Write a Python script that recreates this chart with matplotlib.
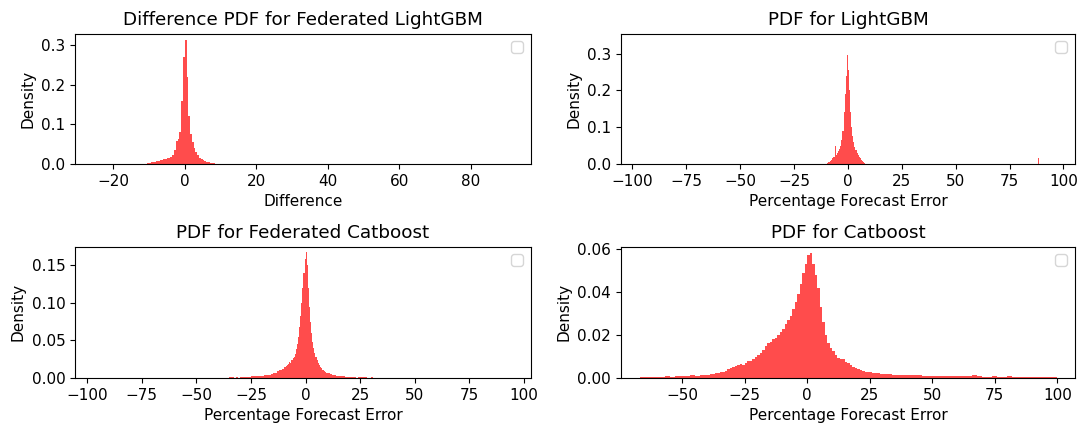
import numpy as np
import matplotlib
matplotlib.use('Agg')
import matplotlib.pyplot as plt

plt.rcParams['font.size'] = 11

# --- Difference PDF for Federated LightGBM (bin width 0.5 from -13 to 10)
tl_edges = np.arange(-13, 10.01, 0.5)
tl_dens = [0.001, 0.000, 0.000, 0.001, 0.001, 0.002, 0.003, 0.005, 0.005, 0.006,
           0.007, 0.008, 0.009, 0.010, 0.012, 0.013, 0.015, 0.016, 0.018, 0.022,
           0.035, 0.058, 0.062, 0.080, 0.160, 0.270, 0.312, 0.220, 0.120, 0.075,
           0.055, 0.040, 0.030, 0.022, 0.016, 0.012, 0.009, 0.007, 0.005, 0.004,
           0.003, 0.002, 0.002, 0.001, 0.001, 0.0005]

# --- PDF for LightGBM (0.5 bins from -9.5 to 8, then empty gap, spike near 88)
tr_edges = np.concatenate([np.arange(-9.5, 8.01, 0.5), [88.0, 88.6]])
tr_dens = [0.002, 0.005, 0.008, 0.012, 0.015, 0.018, 0.020, 0.050, 0.025, 0.030,
           0.034, 0.040, 0.050, 0.065, 0.090, 0.140, 0.190, 0.240, 0.295, 0.255,
           0.200, 0.140, 0.100, 0.075, 0.060, 0.047, 0.037, 0.030, 0.025, 0.020,
           0.016, 0.012, 0.008, 0.005, 0.002,
           0.0, 0.017]

# --- PDF for Federated Catboost
bl_edges = np.concatenate([np.arange(-35, -10, 1.0), np.arange(-10, 10, 0.5),
                           np.arange(10, 32.01, 1.0)])
bl_dens = [0.001, 0.001, 0.0005, 0.001, 0.0005, 0.001, 0.001, 0.001, 0.0015, 0.0015,
           0.002, 0.002, 0.002, 0.0025, 0.003, 0.003, 0.0035, 0.004, 0.0045, 0.005,
           0.006, 0.007, 0.009, 0.010, 0.012,
           0.014, 0.015, 0.016, 0.017, 0.019, 0.021, 0.020, 0.024, 0.026, 0.028,
           0.032, 0.038, 0.045, 0.055, 0.068, 0.083, 0.100, 0.120, 0.140, 0.158,
           0.168, 0.150, 0.120, 0.095, 0.075, 0.060, 0.048, 0.040, 0.033, 0.028,
           0.024, 0.020, 0.017, 0.015, 0.013, 0.011, 0.010, 0.009, 0.008, 0.007,
           0.006, 0.005, 0.004, 0.0035, 0.003, 0.0025, 0.002, 0.002, 0.0015, 0.0015,
           0.001, 0.0015, 0.001, 0.0005, 0.001, 0.001, 0.0015, 0.001, 0.0005, 0.0005,
           0.001, 0.0005]

# --- PDF for Catboost
br_edges = np.concatenate([np.arange(-67, -35, 2.0), np.arange(-35, 30, 1.0),
                           np.arange(30, 100.01, 2.0)])
br_dens = [0.0003, 0.0005, 0.0004, 0.0006, 0.0005, 0.0007, 0.0006, 0.0008, 0.0009, 0.0010,
           0.0016, 0.0011, 0.0013, 0.0015, 0.0018, 0.0022,
           0.0026, 0.0030, 0.0034, 0.0042, 0.0048, 0.0052, 0.0056, 0.0060, 0.0066, 0.0062,
           0.0072, 0.0080, 0.0078, 0.0090, 0.0098, 0.0108, 0.0118, 0.0132, 0.0150, 0.0162,
           0.0170, 0.0180, 0.0188, 0.0200, 0.0215, 0.0230, 0.0250, 0.0270, 0.0290, 0.0320,
           0.0355, 0.0390, 0.0440, 0.0490, 0.0530, 0.0575, 0.0585, 0.0530, 0.0480, 0.0420,
           0.0330, 0.0260, 0.0200, 0.0165, 0.0140, 0.0125, 0.0105, 0.0095, 0.0090, 0.0088,
           0.0075, 0.0068, 0.0060, 0.0052, 0.0045, 0.0040, 0.0036, 0.0033, 0.0030, 0.0028,
           0.0026, 0.0024, 0.0023, 0.0021, 0.0020,
           0.0019, 0.0018, 0.0016, 0.0015, 0.0014, 0.0013, 0.0012, 0.0012, 0.0011, 0.0010,
           0.0010, 0.0009, 0.0009, 0.0010, 0.0008, 0.0008, 0.0007, 0.0008, 0.0012, 0.0007,
           0.0006, 0.0006, 0.0007, 0.0006, 0.0006, 0.0007, 0.0005, 0.0006, 0.0005, 0.0005,
           0.0004, 0.0005, 0.0004, 0.0004, 0.0004]

panels = [
    # edges, dens, title, xlabel, xlim, ylim, axes rect
    (tl_edges, tl_dens, 'Difference PDF for Federated LightGBM', 'Difference',
     (-30.7, 96.9), (0, 0.329), [0.0694, 0.6141, 0.4218, 0.3068]),
    (tr_edges, tr_dens, 'PDF for LightGBM', 'Percentage Forecast Error',
     (-105.4, 105.4), (0, 0.354), [0.5742, 0.6141, 0.4203, 0.3068]),
    (bl_edges, bl_dens, 'PDF for Federated Catboost', 'Percentage Forecast Error',
     (-105.6, 103.2), (0, 0.175), [0.0694, 0.1106, 0.4218, 0.3092]),
    (br_edges, br_dens, 'PDF for Catboost', 'Percentage Forecast Error',
     (-74.6, 107.1), (0, 0.0613), [0.5742, 0.1106, 0.4203, 0.3092]),
]

fig = plt.figure(figsize=(10.81, 4.25), dpi=100)

for edges, dens, title, xlabel, xlim, ylim, rect in panels:
    ax = fig.add_axes(rect)
    centers = (edges[:-1] + edges[1:]) / 2
    ax.hist(centers, bins=edges, weights=dens, color='red', alpha=0.7,
            linewidth=0, edgecolor='none')
    ax.set_xlim(*xlim)
    ax.set_ylim(*ylim)
    ax.set_title(title)
    ax.set_xlabel(xlabel)
    ax.set_ylabel('Density')
    ax.legend()

fig.savefig('out.png', dpi=100)
